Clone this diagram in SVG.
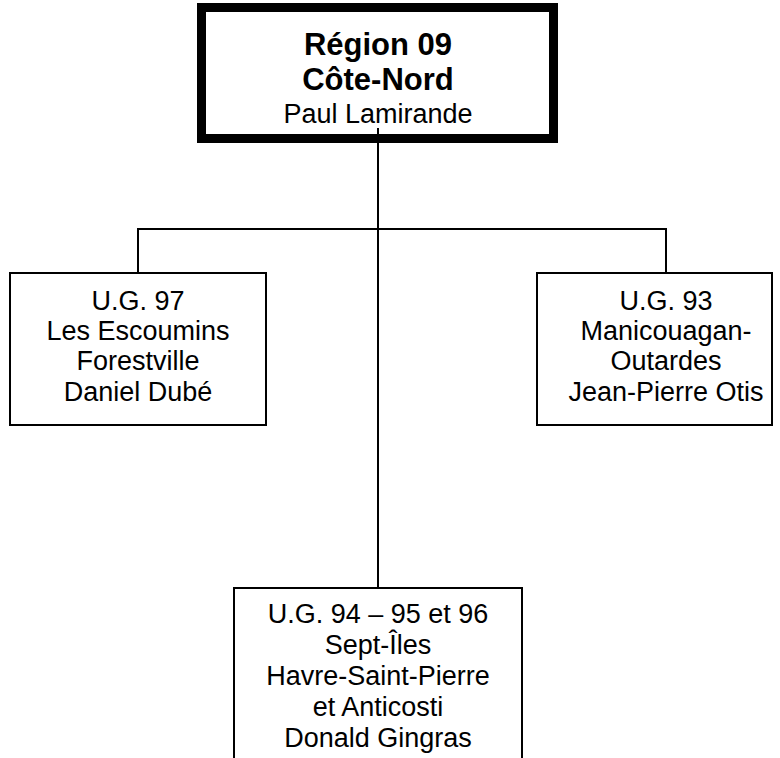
<svg xmlns="http://www.w3.org/2000/svg" width="780" height="758" viewBox="0 0 780 758">
<style>
text{font-family:"Liberation Sans",Arial,sans-serif;fill:#000;text-anchor:middle}
.t{font-size:31px;font-weight:bold}
.n{font-size:27px}
.box{fill:#fff;stroke:#000;stroke-width:2}
.c{fill:none;stroke:#000;stroke-width:2}
</style>
<rect width="780" height="758" fill="#fff"/>
<g id="top">
<rect x="201.5" y="7.5" width="352" height="131" fill="#fff" stroke="#000" stroke-width="9"/>
<text class="t" x="378" y="55">Région 09</text>
<text class="t" x="378" y="90">Côte-Nord</text>
<text class="n" x="378" y="123">Paul Lamirande</text>
</g>
<g id="connectors">
<path class="c" d="M378 128V588M138 273V229H666V273"/>
</g>
<g id="ug97">
<rect class="box" x="10" y="273" width="256" height="152"/>
<text class="n" x="138" y="310">U.G. 97</text>
<text class="n" x="138" y="340">Les Escoumins</text>
<text class="n" x="138" y="370">Forestville</text>
<text class="n" x="138" y="401">Daniel Dubé</text>
</g>
<g id="ug93">
<rect class="box" x="537" y="273" width="235" height="152"/>
<text class="n" x="666" y="310">U.G. 93</text>
<text class="n" x="666" y="340">Manicouagan-</text>
<text class="n" x="666" y="370">Outardes</text>
<text class="n" x="666" y="401">Jean-Pierre Otis</text>
</g>
<g id="ug94">
<rect class="box" x="234" y="588" width="288" height="190"/>
<text class="n" x="378" y="623">U.G. 94 – 95 et 96</text>
<text class="n" x="378" y="654">Sept-Îles</text>
<text class="n" x="378" y="685">Havre-Saint-Pierre</text>
<text class="n" x="378" y="716">et Anticosti</text>
<text class="n" x="378" y="747">Donald Gingras</text>
</g>
</svg>
